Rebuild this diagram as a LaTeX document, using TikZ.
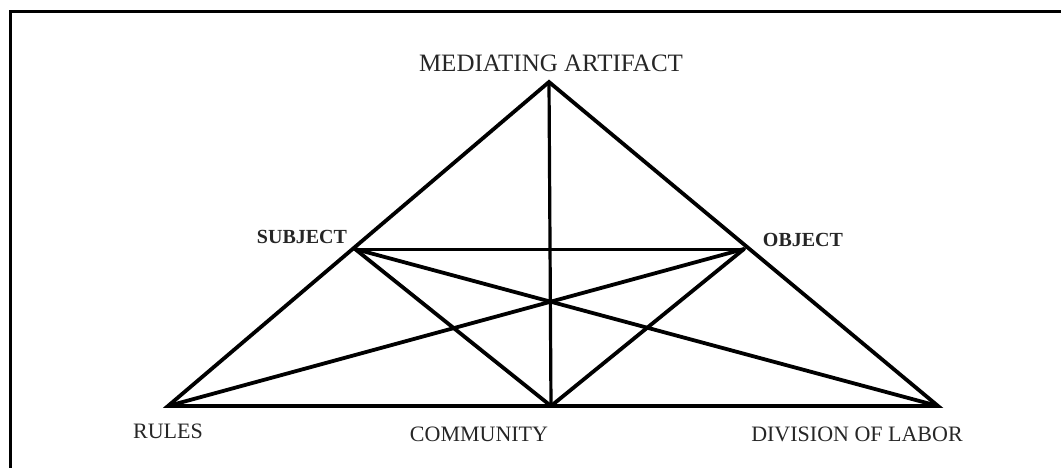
\documentclass[tikz,border=0pt]{standalone}
\usepackage{fontspec}
\setmainfont{Liberation Serif}
\begin{document}
\begin{tikzpicture}[x=1pt,y=-1pt,
  edge/.style={line width=3.8pt,line cap=round,line join=miter},
  lbl/.style={anchor=base,inner sep=0pt,font=\fontsize{22}{24}\selectfont,text=black!85},
  blbl/.style={anchor=base,inner sep=0pt,font=\fontsize{20}{22}\selectfont\bfseries,text=black!85}]
\useasboundingbox (0,0) rectangle (1061,467);
% frame (top and left edges)
\draw[line width=3pt] (10.5,470) -- (10.5,11.5) -- (1065,11.5);
% vertices
\coordinate (apex) at (549,82);
\coordinate (rules) at (168,406);
\coordinate (div) at (938,406);
\coordinate (comm) at (551,406);
\coordinate (subj) at (355,249);
\coordinate (obj) at (744,249);
% labels
\node[lbl,font=\fontsize{25}{27}\selectfont] (lma) at (551,71) {MEDIATING ARTIFACT};
\node[blbl] (lsu) at (302,243) {SUBJECT};
\node[blbl] (lob) at (803,246) {OBJECT};
\node[lbl] (lru) at (168,438) {RULES};
\node[lbl] (lco) at (479,441) {COMMUNITY};
\node[lbl] (ldi) at (857,441) {DIVISION OF LABOR};
% connectors
\draw[edge] (apex) -- (rules) -- (div) -- cycle;
\draw[edge,line width=3.2pt] (apex) -- (comm);
\draw[edge,line width=3pt] (subj) -- (obj);
\draw[edge] (subj) -- (comm);
\draw[edge] (subj) -- (div);
\draw[edge] (obj) -- (comm);
\draw[edge] (obj) -- (rules);
\end{tikzpicture}
\end{document}
